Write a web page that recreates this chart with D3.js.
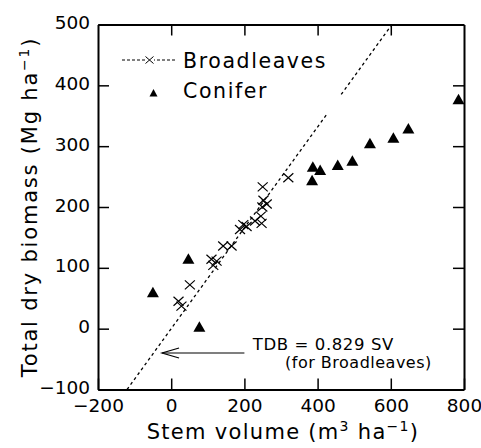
<!DOCTYPE html>
<html>
<head>
<meta charset="utf-8">
<script src="https://cdn.jsdelivr.net/npm/d3@7"></script>
<style>
  html, body { margin: 0; padding: 0; background: #fff; }
  svg { display: block; }
  text { font-family: "DejaVu Sans", "Liberation Sans", sans-serif; fill: #000; }
</style>
</head>
<body>
<svg id="chart" width="481" height="448"></svg>
<script>
// ---- data ----
const broadleavesSV  = [20, 28, 51, 110, 124, 115, 142, 165, 188, 197, 206, 229, 247, 245, 249, 252, 261, 250, 320];
const broadleavesTDB = [45, 37, 72, 114, 111, 104, 136, 136, 163, 171, 168, 177, 173, 185, 200, 211, 205, 233, 248];
const coniferSV  = [-50, 47, 77, 385, 387, 407, 455, 495, 543, 607, 648, 785];
const coniferTDB = [60, 115, 3, 244, 266, 261, 269, 276, 305, 314, 329, 377];
const fitSlope = 0.829;                 // TDB = 0.829 SV
const fitSegmentsTDB = [[-100, 352], [385, 500]];  // visible parts of the regression line
const xTicks = [-200, 0, 200, 400, 600, 800];
const yTicks = [-100, 0, 100, 200, 300, 400, 500];
const xInnerTicks = [0, 200, 400, 600];
const yInnerTicks = [0, 100, 200, 300, 400];
const legendLabels = ["Broadleaves", "Conifer"];
const annotation = ["TDB = 0.829 SV", "(for Broadleaves)"];

// ---- layout ----
const svg = d3.select("#chart");
const L = 98, R = 464, T = 24.5, B = 389.5;
const x = d3.scaleLinear().domain([-200, 800]).range([L, R]);
const y = d3.scaleLinear().domain([-100, 500]).range([B, T]);
const fmt = d => d < 0 ? "\u2212" + Math.abs(d) : String(d);

// axes
const gB = svg.append("g").attr("transform", `translate(0,${B})`)
  .call(d3.axisBottom(x).tickValues(xTicks).tickSize(-11).tickSizeOuter(0).tickPadding(9).tickFormat(fmt));
const gL = svg.append("g").attr("transform", `translate(${L},0)`)
  .call(d3.axisLeft(y).tickValues(yTicks).tickSize(-11).tickSizeOuter(0).tickPadding(8).tickFormat(fmt));
const gT = svg.append("g").attr("transform", `translate(0,${T})`)
  .call(d3.axisTop(x).tickValues(xInnerTicks).tickSize(-11).tickSizeOuter(0).tickFormat(""));
const gR = svg.append("g").attr("transform", `translate(${R},0)`)
  .call(d3.axisRight(y).tickValues(yInnerTicks).tickSize(-11).tickSizeOuter(0).tickFormat(""));
[gB, gL, gT, gR].forEach(g => {
  g.select(".domain").attr("stroke", "#000").attr("stroke-width", 2);
  g.selectAll(".tick line").attr("stroke", "#000").attr("stroke-width", 1.5);
  g.selectAll(".tick text").attr("font-size", 18.5).attr("font-family", "DejaVu Sans").attr("fill", "#000");
});
gL.selectAll(".tick text").attr("dy", "0.22em");

// regression line
const line = d3.line().x(d => x(d / fitSlope)).y(d => y(d));
fitSegmentsTDB.forEach(seg => {
  svg.append("path").attr("d", line(seg))
    .attr("fill", "none").attr("stroke", "#000").attr("stroke-width", 1.3)
    .attr("stroke-dasharray", "3,3");
});

// markers
const crossPath = "M-5,-4.5L5,4.5M-5,4.5L5,-4.5";
const triPath = "M0,-5.5L6,5L-6,5Z";
svg.append("g").selectAll("path").data(broadleavesSV).join("path")
  .attr("d", crossPath)
  .attr("transform", (d, i) => `translate(${x(d)},${y(broadleavesTDB[i])})`)
  .attr("fill", "none").attr("stroke", "#000").attr("stroke-width", 1.2);
svg.append("g").selectAll("path").data(coniferSV).join("path")
  .attr("d", triPath)
  .attr("transform", (d, i) => `translate(${x(d)},${y(coniferTDB[i])})`)
  .attr("fill", "#000");

// legend
const lg = svg.append("g");
lg.append("line").attr("x1", 122).attr("x2", 177).attr("y1", 60).attr("y2", 60)
  .attr("stroke", "#000").attr("stroke-width", 1).attr("stroke-dasharray", "3,2");
lg.append("rect").attr("x", 145).attr("y", 56).attr("width", 9).attr("height", 8).attr("fill", "#fff");
lg.append("path").attr("d", "M-4,-3.5L4,3.5M-4,3.5L4,-3.5").attr("transform", "translate(149.5,60)")
  .attr("fill", "none").attr("stroke", "#000").attr("stroke-width", 1);
lg.append("path").attr("d", "M0,-4L4,3.5L-4,3.5Z").attr("transform", "translate(153.5,93)").attr("fill", "#000");
lg.selectAll("text").data(legendLabels).join("text")
  .attr("x", 183).attr("y", (d, i) => 67.5 + i * 30)
  .attr("font-size", 20.5).attr("letter-spacing", 1.6).text(d => d);

// annotation
svg.append("line").attr("x1", x(200)).attr("x2", x(-25)).attr("y1", y(-40)).attr("y2", y(-40))
  .attr("stroke", "#000").attr("stroke-width", 1.2);
svg.append("path")
  .attr("d", `M${x(-25) + 17},${y(-40) - 5}L${x(-25)},${y(-40)}L${x(-25) + 17},${y(-40) + 5}`)
  .attr("fill", "none").attr("stroke", "#000").attr("stroke-width", 1.2);
svg.append("text").attr("x", x(223)).attr("y", y(-35)).attr("font-size", 16.5).attr("letter-spacing", 0.6).text(annotation[0]);
svg.append("text").attr("x", x(311)).attr("y", y(-65)).attr("font-size", 16).attr("letter-spacing", 0.5).text(annotation[1]);

// axis titles
const xt = svg.append("text").attr("x", (L + R) / 2 + 2).attr("y", 439).attr("text-anchor", "middle")
  .attr("font-size", 21).attr("letter-spacing", 1.3);
xt.append("tspan").text("Stem volume (m");
xt.append("tspan").attr("dy", -8).attr("font-size", 14).text("3");
xt.append("tspan").attr("dy", 8).text(" ha");
xt.append("tspan").attr("dy", -8).attr("font-size", 14).text("\u22121");
xt.append("tspan").attr("dy", 8).text(")");

const yt = svg.append("text").attr("transform", `translate(37,${(T + B) / 2}) rotate(-90)`)
  .attr("text-anchor", "middle").attr("font-size", 21).attr("letter-spacing", 1.8);
yt.append("tspan").text("Total dry biomass (Mg ha");
yt.append("tspan").attr("dy", -8).attr("font-size", 14).text("\u22121");
yt.append("tspan").attr("dy", 8).text(")");
</script>
</body>
</html>
